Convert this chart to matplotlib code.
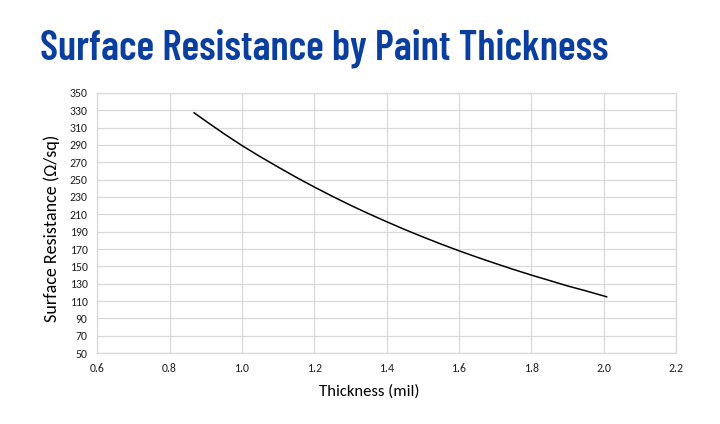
import matplotlib
matplotlib.use("Agg")
import matplotlib.pyplot as plt

# values
thickness = [0.868, 0.9, 0.95, 1.0, 1.05, 1.1, 1.15, 1.2, 1.25, 1.3, 1.35, 1.4,
             1.45, 1.5, 1.55, 1.6, 1.65, 1.7, 1.75, 1.8, 1.85, 1.9, 1.95, 2.008]
resistance = [327, 317.5, 303, 289.3, 276.6, 264.5, 252.7, 241.5, 230.8, 220.5, 210.8, 201.5,
              192.5, 184, 175.8, 168, 160.6, 153.5, 146.6, 140, 133.8, 127.5, 121.9, 115]

x_ticks = [0.6, 0.8, 1.0, 1.2, 1.4, 1.6, 1.8, 2.0, 2.2]
y_ticks = list(range(50, 351, 20))

grid_col = "#d9d9d9"
label_font = ["Carlito", "Lato", "DejaVu Sans"]

fig = plt.figure(figsize=(7.2, 4.24), dpi=100)
ax = fig.add_axes([0.135, 0.167, 0.804, 0.614])

ax.plot(thickness, resistance, color="black", lw=1.1)

ax.set_xlim(0.6, 2.2)
ax.set_ylim(50, 350)
ax.set_xticks(x_ticks)
ax.set_xticklabels([f"{v:.1f}" for v in x_ticks], fontsize=8.5, family=label_font)
ax.set_yticks(y_ticks)
ax.set_yticklabels([str(v) for v in y_ticks], fontsize=8.5, family=label_font)
ax.tick_params(length=0, pad=7, colors="#222222")
ax.grid(True, color=grid_col, lw=0.9)
ax.set_axisbelow(True)
for s in ax.spines.values():
    s.set_color(grid_col)
    s.set_linewidth(0.9)

ax.set_xlabel("Thickness (mil)", fontsize=12, family=label_font)
ax.xaxis.set_label_coords(0.47, -0.12)
ax.set_ylabel("Surface Resistance (\u03a9/sq)", fontsize=13, family=label_font)
ax.yaxis.set_label_coords(-0.065, 0.48)

title = fig.text(40 / 720, 1 - 60 / 424, "Surface Resistance by Paint Thickness", fontsize=30,
                 fontweight=600, color="#0a3fa0",
                 family=["Barlow Condensed", "Roboto Condensed", "DejaVu Sans"],
                 va="baseline")
# fit the title to the reference width
fig.canvas.draw()
w = title.get_window_extent().width
title.set_fontsize(30 * 568 / w)

fig.savefig("out.png", dpi=100)
